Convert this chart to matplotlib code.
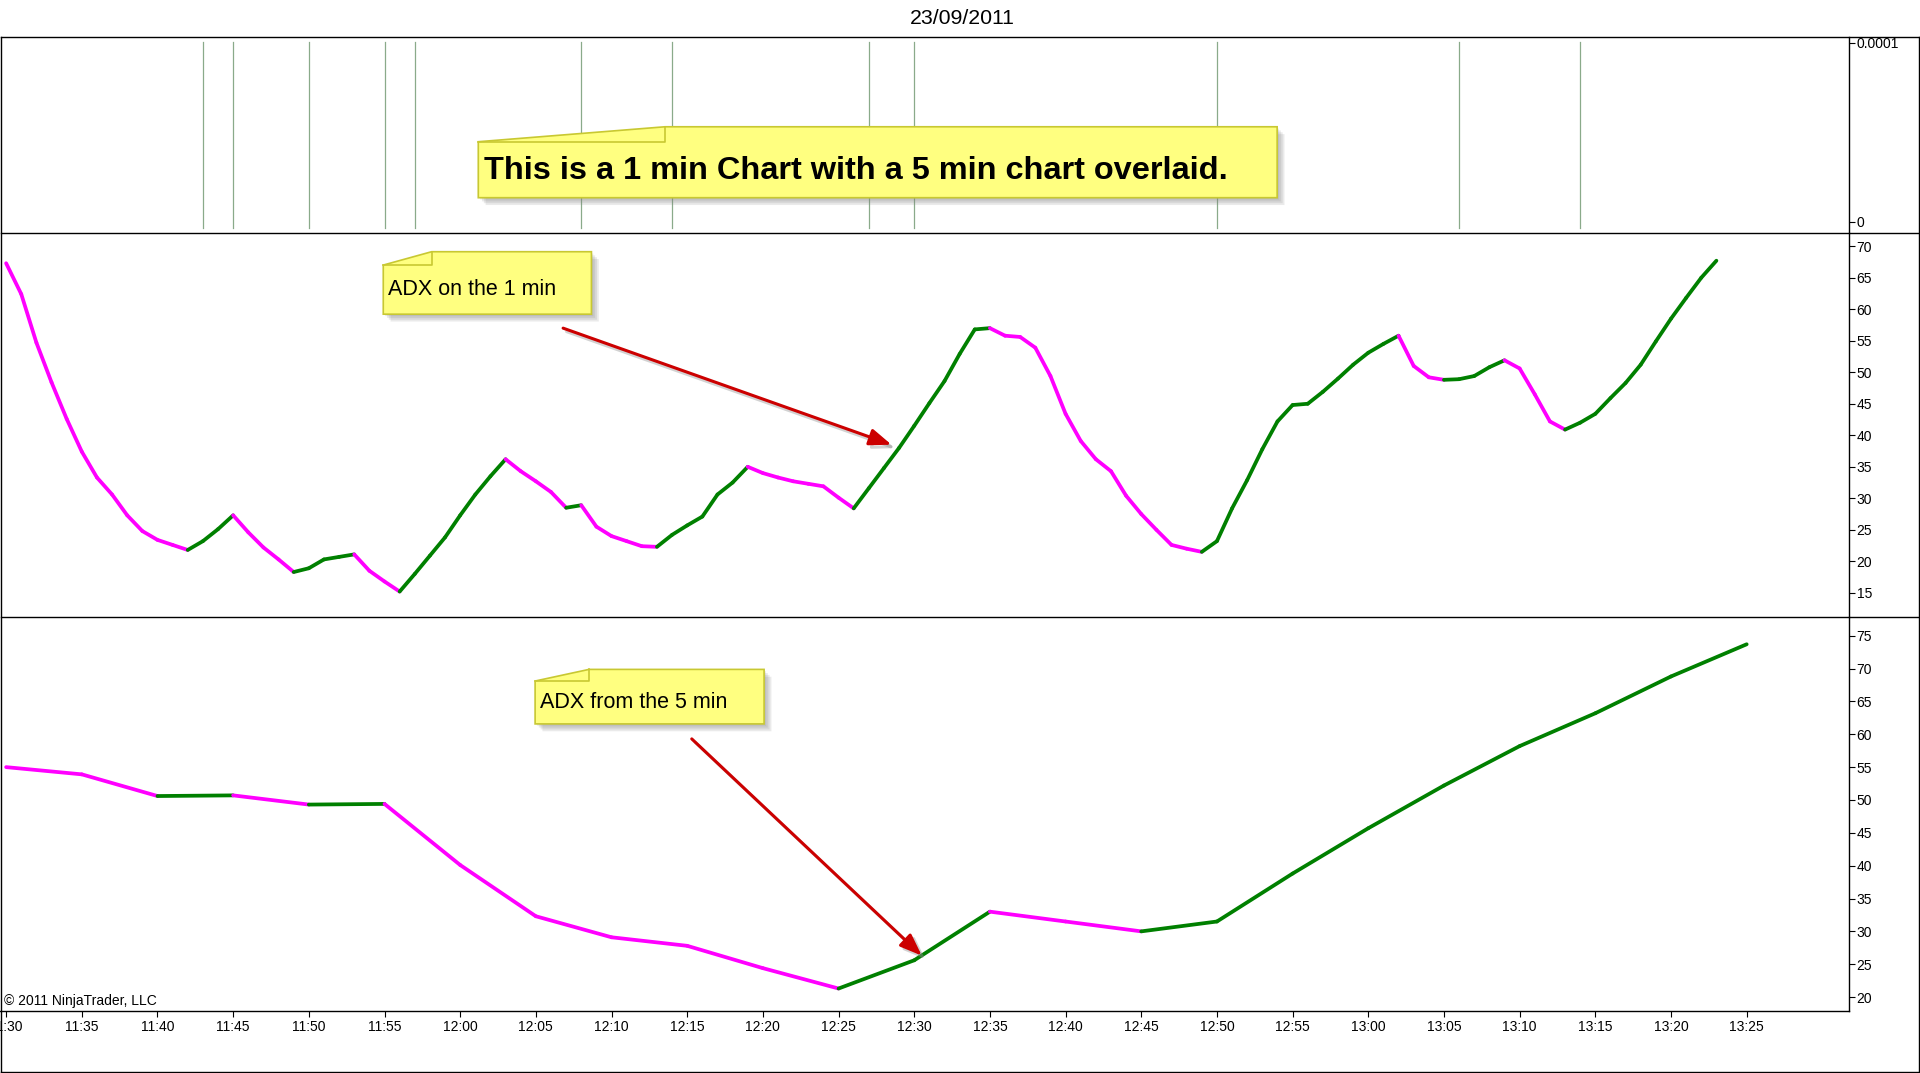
import numpy as np
import pandas as pd
import matplotlib
matplotlib.use("Agg")
import matplotlib.pyplot as plt
import matplotlib.dates as mdates
import matplotlib.patheffects as pe
from matplotlib.collections import LineCollection
from matplotlib.patches import Polygon
from matplotlib.lines import Line2D
from matplotlib import font_manager as fm

# ---------------- DATA ----------------
session_date = "23/09/2011"
start_time = "2011-09-23 11:30"

adx_1min = [
    67.3, 62.4, 54.7, 48.4, 42.6, 37.4, 33.3, 30.6, 27.3, 24.8,
    23.4, 22.6, 21.8, 23.2, 25.1, 27.3, 24.6, 22.2, 20.3, 18.3,
    18.9, 20.3, 20.7, 21.1, 18.5, 16.8, 15.2, 18.0, 20.9, 23.8,
    27.3, 30.6, 33.5, 36.2, 34.3, 32.7, 31.0, 28.5, 28.9, 25.5,
    24.0, 23.2, 22.4, 22.3, 24.2, 25.7, 27.1, 30.6, 32.5, 35.0,
    34.0, 33.3, 32.7, 32.3, 31.9, 30.1, 28.4, 31.6, 34.8, 38.0,
    41.5, 45.1, 48.6, 52.9, 56.8, 57.0, 55.8, 55.6, 53.9, 49.4,
    43.4, 39.1, 36.2, 34.3, 30.4, 27.5, 25.0, 22.6, 22.0, 21.5,
    23.2, 28.4, 32.9, 37.8, 42.2, 44.8, 45.0, 46.9, 49.0, 51.2,
    53.1, 54.5, 55.8, 51.0, 49.2, 48.8, 48.9, 49.4, 50.8, 51.9,
    50.6, 46.5, 42.2, 40.9, 42.0, 43.4, 45.9, 48.3, 51.2, 54.9,
    58.5, 61.8, 65.0, 67.7,
]

adx_5min = [
    55.0, 53.9, 50.6, 50.7, 49.3, 49.4, 40.1, 32.3, 29.1, 27.8,
    24.4, 21.3, 25.6, 33.0, 31.5, 30.0, 31.5, 38.8, 45.7, 52.2,
    58.2, 63.2, 68.8, 73.7,
]

signal_times = ["11:43", "11:45", "11:50", "11:55", "11:57", "12:08",
                "12:14", "12:27", "12:30", "12:50", "13:06", "13:14"]

time_tick_labels = ["11:30", "11:35", "11:40", "11:45", "11:50", "11:55",
                    "12:00", "12:05", "12:10", "12:15", "12:20", "12:25",
                    "12:30", "12:35", "12:40", "12:45", "12:50", "12:55",
                    "13:00", "13:05", "13:10", "13:15", "13:20", "13:25"]

top_ticks = [0, 0.0001]
top_tick_labels = ["0", "0.0001"]
mid_ticks = [15, 20, 25, 30, 35, 40, 45, 50, 55, 60, 65, 70]
bot_ticks = [20, 25, 30, 35, 40, 45, 50, 55, 60, 65, 70, 75]

note_main = "This is a 1 min Chart with a 5 min chart overlaid."
note_1min = "ADX on the 1 min"
note_5min = "ADX from the 5 min"
copyright_text = "\u00a9 2011 NinjaTrader, LLC"

# arrow anchors: (minutes after start, ADX value)
arrow_1min = ((36.8, 57.0), (58.5, 38.5))
arrow_5min = ((45.3, 59.3), (60.5, 26.3))

# ---------------- STYLE ----------------
GREEN = "#008000"
MAGENTA = "#FF00FF"
SIGNAL = "#8AAA8A"
RED = "#CC0000"
NOTE_FILL = "#FFFF80"
NOTE_EDGE = "#C8C832"

plt.rcParams["font.family"] = ["Liberation Sans", "DejaVu Sans"]
names = {f.name for f in fm.fontManager.ttflist}
if "Liberation Sans Narrow" in names:
    AXIS_FONT, AXIS_SIZE = ["Liberation Sans Narrow", "DejaVu Sans"], 11.8
else:
    AXIS_FONT, AXIS_SIZE = ["Liberation Sans", "DejaVu Sans"], 10

W, H = 1568.0, 876.0   # reference layout units


def fx(x):
    return x / W


def fy(y):
    return 1 - y / H


fig = plt.figure(figsize=(19.2, 10.73), dpi=100)
fig.patch.set_facecolor("white")

x_right = 1510
ax_top = fig.add_axes([0, fy(190), fx(x_right), (190 - 30) / H])
ax_mid = fig.add_axes([0, fy(504), fx(x_right), (504 - 190) / H])
ax_bot = fig.add_axes([0, fy(825), fx(x_right), (825 - 504) / H])

t0 = pd.Timestamp(start_time)
t1 = pd.date_range(t0, periods=len(adx_1min), freq="1min")
t5 = pd.date_range(t0, periods=len(adx_5min), freq="5min")
xlim = (mdates.date2num(t0 - pd.Timedelta(minutes=0.405)),
        mdates.date2num(t0 + pd.Timedelta(minutes=121.76)))


def colored_line(ax, times, vals):
    x = mdates.date2num(times)
    y = np.asarray(vals, dtype=float)
    pts = np.column_stack([x, y])
    segs = np.stack([pts[:-1], pts[1:]], axis=1)
    cols = np.where(np.diff(y) > 0, GREEN, MAGENTA)
    lc = LineCollection(segs, colors=list(cols), linewidths=2.7,
                        capstyle="round", joinstyle="round", zorder=3)
    ax.add_collection(lc)


for ax in (ax_top, ax_mid, ax_bot):
    ax.set_xlim(*xlim)
    for s in ("left", "top", "bottom"):
        ax.spines[s].set_visible(False)
    ax.spines["right"].set_linewidth(1.0)
    ax.yaxis.tick_right()
    ax.tick_params(axis="y", direction="out", length=4, width=0.8, pad=1.5,
                   labelsize=AXIS_SIZE)
    ax.tick_params(axis="x", bottom=False, labelbottom=False)
    ax.set_facecolor("white")

# top panel: signal lines
ax_top.set_ylim(-0.0616e-4, 1.034e-4)
for s in signal_times:
    ax_top.axvline(mdates.date2num(pd.Timestamp("2011-09-23 " + s)),
                   ymin=0.025, ymax=0.975, color=SIGNAL, lw=0.9)
ax_top.set_yticks(top_ticks, top_tick_labels)

# middle panel: 1-min ADX
ax_mid.set_ylim(11.11, 72.14)
colored_line(ax_mid, t1, adx_1min)
ax_mid.set_yticks(mid_ticks, [str(v) for v in mid_ticks])

# bottom panel: 5-min ADX
ax_bot.set_ylim(17.95, 77.8)
colored_line(ax_bot, t5, adx_5min)
ax_bot.set_yticks(bot_ticks, [str(v) for v in bot_ticks])
ax_bot.spines["bottom"].set_visible(True)
ax_bot.spines["bottom"].set_linewidth(1.0)
tick_pos = [mdates.date2num(pd.Timestamp("2011-09-23 " + s)) for s in time_tick_labels]
ax_bot.set_xticks(tick_pos, time_tick_labels)
ax_bot.tick_params(axis="x", bottom=True, labelbottom=True, direction="out",
                   length=4.5, width=0.8, pad=2, labelsize=AXIS_SIZE)
for ax in (ax_top, ax_mid, ax_bot):
    for lab in ax.get_yticklabels() + ax.get_xticklabels():
        lab.set_fontfamily(AXIS_FONT)


def arrow(ax, anchors):
    (m0, v0), (m1, v1) = anchors
    p0 = (mdates.date2num(t0 + pd.Timedelta(minutes=m0)), v0)
    p1 = (mdates.date2num(t0 + pd.Timedelta(minutes=m1)), v1)
    ax.annotate("", xy=p1, xytext=p0, zorder=5,
                arrowprops=dict(arrowstyle="-|>,head_length=1.1,head_width=0.42",
                                mutation_scale=12, color=RED, lw=2.2,
                                shrinkA=0, shrinkB=0,
                                path_effects=[pe.SimpleLineShadow(offset=(2.5, -2.5),
                                                                  shadow_color="gray",
                                                                  alpha=0.35),
                                              pe.Normal()]))


arrow(ax_mid, arrow_1min)
arrow(ax_bot, arrow_5min)

# frame lines
frame_kw = dict(color="black", lw=1.0, transform=fig.transFigure)
fig.add_artist(Line2D([fx(0.5), fx(1567)], [fy(30), fy(30)], **frame_kw))
fig.add_artist(Line2D([fx(0.5), fx(1567)], [fy(190), fy(190)], **frame_kw))
fig.add_artist(Line2D([fx(0.5), fx(1567)], [fy(504), fy(504)], **frame_kw))
fig.add_artist(Line2D([fx(0.5), fx(1567)], [fy(875), fy(875)], **frame_kw))
fig.add_artist(Line2D([fx(0.6), fx(0.6)], [fy(30), fy(875)], **frame_kw))
fig.add_artist(Line2D([fx(1567), fx(1567)], [fy(30), fy(875)], **frame_kw))


def note(x0, y0, x1, y1, fxr, fyb, text, tx, ty, size, weight):
    def poly(dx=0.0, dy=0.0):
        return [(fx(x0 + dx), fy(fyb + dy)), (fx(fxr + dx), fy(y0 + dy)),
                (fx(x1 + dx), fy(y0 + dy)), (fx(x1 + dx), fy(y1 + dy)),
                (fx(x0 + dx), fy(y1 + dy))]
    for k in (6, 4.5, 3, 1.5):
        fig.add_artist(Polygon(poly(k, k), closed=True, facecolor="gray",
                               edgecolor="none", alpha=0.16,
                               transform=fig.transFigure, zorder=8))
    fig.add_artist(Polygon(poly(), closed=True, facecolor=NOTE_FILL,
                           edgecolor=NOTE_EDGE, lw=1.2,
                           transform=fig.transFigure, zorder=9))
    fig.add_artist(Line2D([fx(x0), fx(fxr), fx(fxr)], [fy(fyb), fy(fyb), fy(y0)],
                          color=NOTE_EDGE, lw=1.2, transform=fig.transFigure,
                          zorder=10))
    fig.text(fx(tx), fy(ty), text, ha="left", va="center", fontsize=size,
             fontweight=weight, color="black", zorder=11)


note(390.6, 103.5, 1043, 161.4, 543, 115.7, note_main, 395, 139.5, 23.4, "bold")
note(313, 205.5, 483, 256.5, 352.5, 216.4, note_1min, 317, 236.5, 15.5, "normal")
note(437, 546.5, 624, 591, 481, 556, note_5min, 441, 573.5, 15.5, "normal")

fig.text(fx(786), fy(15), session_date, ha="center", va="center", fontsize=15.3)
fig.text(fx(3), fy(817.5), copyright_text, ha="left", va="center", fontsize=10)

fig.savefig("out.png", dpi=100, facecolor="white")
